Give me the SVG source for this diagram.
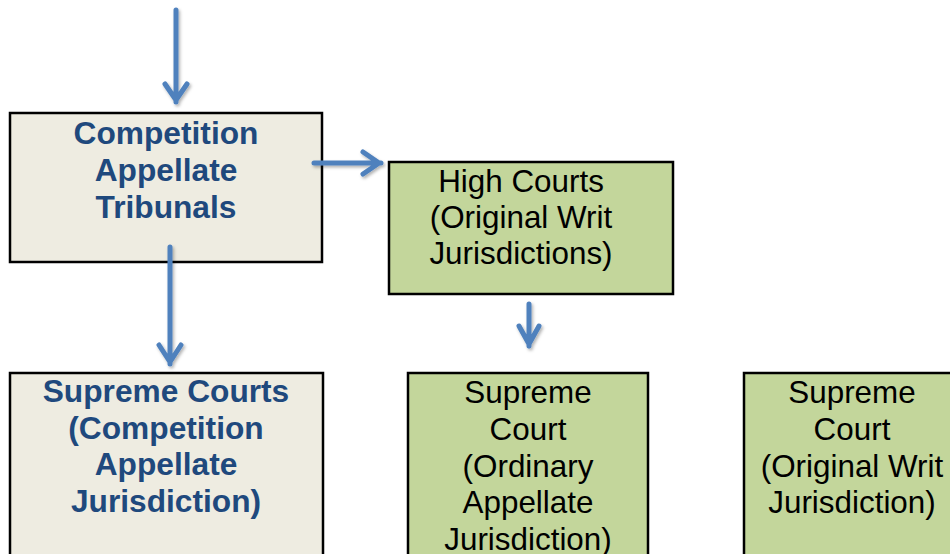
<svg xmlns="http://www.w3.org/2000/svg" width="950" height="554" viewBox="0 0 950 554">
  <defs>
    <filter id="sh" x="-50%" y="-50%" width="200%" height="200%">
      <feDropShadow dx="1.5" dy="2" stdDeviation="1.5" flood-color="#000" flood-opacity="0.3"/>
    </filter>
    <style>
      .tan { fill: #EEECE1; stroke: #000; stroke-width: 2.5; }
      .grn { fill: #C3D69B; stroke: #000; stroke-width: 2.5; }
      .bt { font-family: "Liberation Sans", Arial, sans-serif; font-weight: bold; font-size: 31.7px; fill: #1F497D; text-anchor: middle; }
      .rt { font-family: "Liberation Sans", Arial, sans-serif; font-size: 31.4px; fill: #000; text-anchor: middle; }
      .arr { fill: none; stroke: #4F81BD; stroke-width: 5; stroke-linecap: round; stroke-linejoin: miter; filter: url(#sh); }
    </style>
  </defs>
  <rect width="950" height="554" fill="#fff"/>

  <g id="node-cat">
    <rect class="tan" x="10" y="113" width="312" height="149"/>
    <text class="bt" x="166" y="144">Competition</text>
    <text class="bt" x="166" y="181">Appellate</text>
    <text class="bt" x="166" y="218">Tribunals</text>
  </g>

  <g id="node-hc">
    <rect class="grn" x="389" y="162" width="284" height="132"/>
    <text class="rt" x="521" y="192">High Courts</text>
    <text class="rt" x="521" y="228">(Original Writ</text>
    <text class="rt" x="521" y="264">Jurisdictions)</text>
  </g>

  <g id="node-sc-comp">
    <rect class="tan" x="10" y="373" width="313" height="190"/>
    <text class="bt" x="166" y="402">Supreme Courts</text>
    <text class="bt" x="166" y="439">(Competition</text>
    <text class="bt" x="166" y="475">Appellate</text>
    <text class="bt" x="166" y="512">Jurisdiction)</text>
  </g>

  <g id="node-sc-ord">
    <rect class="grn" x="408" y="373" width="240" height="190"/>
    <text class="rt" x="528" y="403">Supreme</text>
    <text class="rt" x="528" y="440">Court</text>
    <text class="rt" x="528" y="477">(Ordinary</text>
    <text class="rt" x="528" y="513">Appellate</text>
    <text class="rt" x="528" y="550">Jurisdiction)</text>
  </g>

  <g id="node-sc-writ">
    <rect class="grn" x="744" y="373" width="220" height="190"/>
    <text class="rt" x="852" y="403">Supreme</text>
    <text class="rt" x="852" y="440">Court</text>
    <text class="rt" x="852" y="477">(Original Writ</text>
    <text class="rt" x="852" y="513">Jurisdiction)</text>
  </g>

  <g id="connectors">
    <path class="arr" d="M176 10 V102 M165 84 L176 100 L187 84"/>
    <path class="arr" d="M314 163 H381 M363 152 L379 163 L363 174"/>
    <path class="arr" d="M170 247 V364 M159 345 L170 362 L181 345"/>
    <path class="arr" d="M529 304 V346 M519 326 L529 344 L539 326"/>
  </g>
</svg>
